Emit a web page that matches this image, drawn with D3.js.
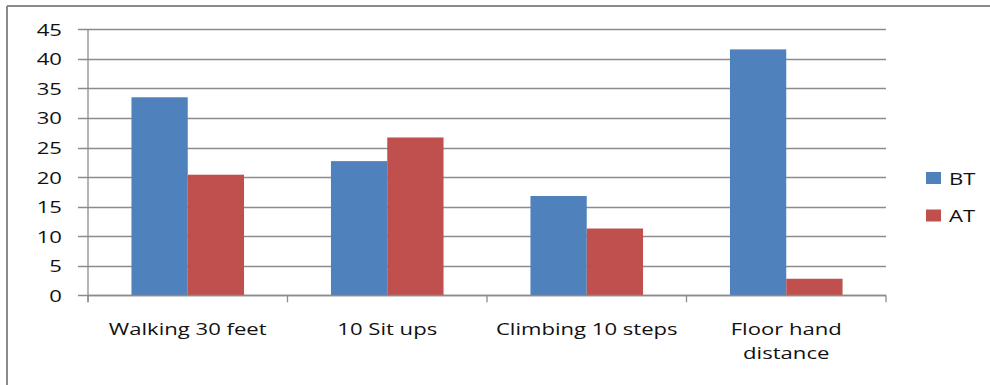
<!DOCTYPE html>
<html><head><meta charset="utf-8">
<script src="https://cdn.jsdelivr.net/npm/d3@7"></script>
<style>
html,body{margin:0;padding:0;background:#fff;}
svg{display:block;}
text{font-family:"Open Sans",sans-serif;fill:#111;}
</style></head>
<body>
<svg id="c" width="990" height="385"></svg>
<script>
const categories = [["Walking 30 feet"], ["10 Sit ups"], ["Climbing 10 steps"], ["Floor hand", "distance"]];
const seriesNames = ["BT", "AT"];
const btValues = [33.5, 22.7, 16.8, 41.6];
const atValues = [20.4, 26.7, 11.3, 2.8];
const yTicks = [0, 5, 10, 15, 20, 25, 30, 35, 40, 45];
const colors = ["#4F81BD", "#C0504D"];

(function () {
const svg = d3.select("#c");
const W = 990, H = 385;
const pLeft = 88, pRight = 886, pTop = 29.3, pBottom = 295.3;
const SX = 1.3;

// frame
svg.append("line").attr("x1", 7).attr("x2", W).attr("y1", 6).attr("y2", 6).attr("stroke", "#8a8a8a").attr("stroke-width", 2);
svg.append("line").attr("x1", 7).attr("x2", 7).attr("y1", 6).attr("y2", H).attr("stroke", "#8a8a8a").attr("stroke-width", 2);

const y = d3.scaleLinear().domain([0, 45]).range([pBottom, pTop]);
const x0 = d3.scaleBand().domain(d3.range(categories.length)).range([pLeft, pRight]).paddingInner(0).paddingOuter(0);
const x1 = d3.scaleBand().domain(seriesNames).range([0, x0.bandwidth()]).paddingInner(0).paddingOuter(0.772);

// gridlines
svg.append("g").selectAll("line").data(yTicks).join("line")
  .attr("x1", pLeft - 10).attr("x2", pRight)
  .attr("y1", d => Math.round(y(d)) + 0.5).attr("y2", d => Math.round(y(d)) + 0.5)
  .attr("stroke", "#8c8c8c").attr("stroke-width", 1.3);

// y labels
svg.append("g").selectAll("text").data(yTicks).join("text")
  .attr("transform", d => `translate(62,${y(d) + 6.5}) scale(${SX},1)`)
  .attr("text-anchor", "end").attr("font-size", 17).text(d => d);

// bars
const data = categories.map((c, i) => ({i, vals: [btValues[i], atValues[i]]}));
const groups = svg.append("g").selectAll("g").data(data).join("g")
  .attr("transform", d => `translate(${x0(d.i)},0)`);
groups.selectAll("rect").data(d => d.vals.map((v, k) => ({v, k}))).join("rect")
  .attr("x", d => x1(seriesNames[d.k])).attr("width", x1.bandwidth())
  .attr("y", d => y(d.v)).attr("height", d => y(0) - y(d.v))
  .attr("fill", d => colors[d.k]);

// axes lines
svg.append("line").attr("x1", pLeft).attr("x2", pLeft).attr("y1", pTop).attr("y2", pBottom + 7).attr("stroke", "#8c8c8c").attr("stroke-width", 1.3);
svg.append("line").attr("x1", pLeft).attr("x2", pRight).attr("y1", Math.round(pBottom) + 0.5).attr("y2", Math.round(pBottom) + 0.5).attr("stroke", "#8c8c8c").attr("stroke-width", 1.3);
svg.append("g").selectAll("line").data(d3.range(categories.length + 1)).join("line")
  .attr("x1", d => pLeft + d * x0.bandwidth()).attr("x2", d => pLeft + d * x0.bandwidth())
  .attr("y1", pBottom).attr("y2", pBottom + 7).attr("stroke", "#8c8c8c").attr("stroke-width", 1.3);

// category labels
const cl = svg.append("g").selectAll("g").data(categories).join("g")
  .attr("transform", (d, i) => `translate(${x0(i) + x0.bandwidth() / 2},335) scale(${SX},1)`);
cl.selectAll("text").data(d => d).join("text")
  .attr("y", (d, j) => j * 24).attr("text-anchor", "middle").attr("font-size", 17).text(d => d);

// legend
const lg = svg.append("g").selectAll("g").data(seriesNames).join("g")
  .attr("transform", (d, i) => `translate(926,${172 + i * 37.5})`);
lg.append("rect").attr("width", 15).attr("height", 12).attr("fill", (d, i) => colors[i]);
lg.append("text").attr("transform", `translate(23,12.5) scale(${SX},1)`).attr("font-size", 17).text(d => d);
})();
</script>
</body></html>
